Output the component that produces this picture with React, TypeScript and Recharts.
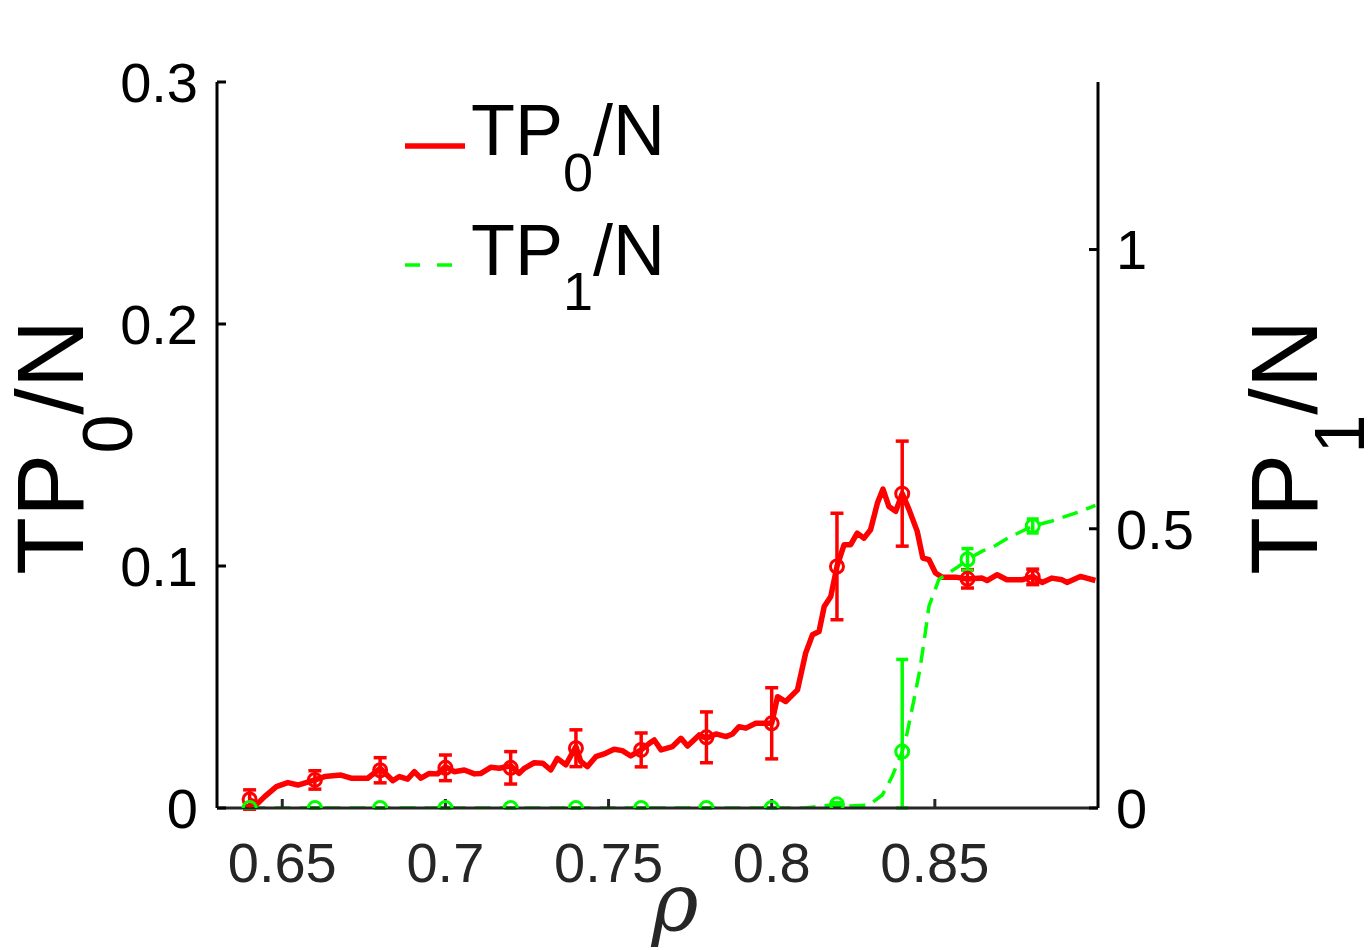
import {
  ComposedChart, Line, Scatter, XAxis, YAxis, ErrorBar,
} from "recharts";

// TP0/N (left axis) — dense simulation curve
const RHO_TP0 = [
  0.640, 0.6425, 0.6446, 0.6482, 0.6517, 0.6548, 0.660, 0.663, 0.668, 0.6711,
  0.6762, 0.680, 0.6839, 0.6859, 0.6884, 0.6905, 0.6925, 0.6951, 0.6976, 0.700,
  0.7027, 0.7058, 0.7089, 0.7109, 0.7139, 0.7165, 0.720, 0.7226, 0.7242, 0.7272,
  0.7298, 0.7323, 0.7343, 0.7369, 0.740, 0.7415, 0.7435, 0.7461, 0.7491, 0.7517,
  0.7542, 0.7568, 0.760, 0.7625, 0.764, 0.7661, 0.7696, 0.7722, 0.7742, 0.7778,
  0.780, 0.7829, 0.786, 0.788, 0.790, 0.7921, 0.7951, 0.800, 0.8018, 0.8043,
  0.8079, 0.8104, 0.8125, 0.8145, 0.8161, 0.8181, 0.820, 0.8222, 0.8242, 0.8262,
  0.8283, 0.8303, 0.8324, 0.8341, 0.8359, 0.838, 0.840, 0.8421, 0.8446, 0.8463,
  0.8482, 0.8502, 0.8522, 0.8563, 0.860, 0.8645, 0.866, 0.8691, 0.8721, 0.8767,
  0.880, 0.8829, 0.8859, 0.889, 0.8905, 0.8946, 0.8992,
];
const TP0 = [
  0.0033, 0.0019, 0.0047, 0.0088, 0.0105, 0.0095, 0.0116, 0.013, 0.0136, 0.0123,
  0.0123, 0.0164, 0.0113, 0.013, 0.0119, 0.015, 0.0123, 0.0143, 0.0141, 0.0171,
  0.015, 0.0157, 0.0141, 0.0143, 0.0168, 0.0164, 0.0174, 0.0143, 0.0164, 0.0187,
  0.0185, 0.0157, 0.0205, 0.0178, 0.0254, 0.0192, 0.0171, 0.0212, 0.0226, 0.0243,
  0.0237, 0.0215, 0.024, 0.0267, 0.0281, 0.024, 0.0254, 0.0288, 0.0256, 0.0302,
  0.0288, 0.0306, 0.0295, 0.0306, 0.0336, 0.033, 0.035, 0.035, 0.046, 0.044,
  0.0488, 0.064, 0.0716, 0.0729, 0.0833, 0.0874, 0.0998, 0.1088, 0.1088, 0.1136,
  0.1115, 0.115, 0.126, 0.1318, 0.1246, 0.1226, 0.1299, 0.1233, 0.1143, 0.1033,
  0.1026, 0.0971, 0.0954, 0.0954, 0.0946, 0.095, 0.094, 0.0964, 0.0943, 0.0943,
  0.0957, 0.0932, 0.095, 0.0943, 0.0932, 0.0957, 0.094,
];

// TP1/N (right axis) — dense simulation curve
const RHO_TP1 = [
  0.640, 0.660, 0.680, 0.700, 0.720, 0.740, 0.760, 0.780, 0.800, 0.810,
  0.820, 0.8237, 0.8298, 0.8339, 0.8369, 0.840, 0.8415, 0.8436, 0.8454, 0.8467,
  0.8482, 0.8497, 0.8512, 0.8543, 0.8574, 0.860, 0.8645, 0.8686, 0.8726, 0.880,
  0.8859, 0.8951, 0.8992,
];
const TP1 = [
  0, 0, 0, 0, 0, 0, 0, 0, 0, 0,
  0.0066, 0.0036, 0.0054, 0.0233, 0.0562, 0.101, 0.134, 0.194, 0.2476, 0.2985,
  0.3613, 0.385, 0.409, 0.421, 0.433, 0.445, 0.46, 0.47, 0.484, 0.505,
  0.514, 0.532, 0.542,
];

// averaged points with error bars
const RHO_ERR = [0.64, 0.66, 0.68, 0.70, 0.72, 0.74, 0.76, 0.78, 0.80, 0.82, 0.84, 0.86, 0.88];
const TP0_MEAN = [0.0035, 0.0116, 0.0156, 0.0166, 0.0166, 0.0247, 0.024, 0.0292, 0.035, 0.0998, 0.1299, 0.0947, 0.0955];
const TP0_ERR = [0.004, 0.0038, 0.0052, 0.0053, 0.0067, 0.0076, 0.007, 0.0105, 0.0147, 0.022, 0.0217, 0.0038, 0.0032];
const TP1_MEAN = [0, 0, 0, 0, 0, 0, 0, 0, 0, 0.0066, 0.101, 0.445, 0.505];
const TP1_ERR_LOW = [0, 0, 0, 0, 0, 0, 0, 0, 0, 0.003, 0.101, 0.0195, 0.0125];
const TP1_ERR_HIGH = [0, 0, 0, 0, 0, 0, 0, 0, 0, 0.003, 0.165, 0.0195, 0.0125];

const X_TICKS = [0.65, 0.7, 0.75, 0.8, 0.85];
const LEFT_TICKS = [0, 0.1, 0.2, 0.3];
const RIGHT_TICKS = [0, 0.5, 1];

const RED = "#ff0000";
const GREEN = "#00ff00";
const FONT = "'Liberation Sans', Arial, Helvetica, sans-serif";

const tp0Line = RHO_TP0.map((rho, i) => ({ rho, v: TP0[i] }));
const tp1Line = RHO_TP1.map((rho, i) => ({ rho, v: TP1[i] }));
const tp0Pts = RHO_ERR.map((rho, i) => ({ rho, v: TP0_MEAN[i], e: TP0_ERR[i] }));
const tp1Pts = RHO_ERR.map((rho, i) => ({ rho, v: TP1_MEAN[i], e: [TP1_ERR_LOW[i], TP1_ERR_HIGH[i]] }));

const ring = (color: string) => (p: any) => (
  <circle cx={p.cx} cy={p.cy} r={6.5} fill="none" stroke={color} strokeWidth={3} />
);

const leftLabel = () => (
  <text transform="translate(83,575) rotate(-90)" fontFamily={FONT} fontSize={95} fill="#000">
    TP<tspan fontSize={70} dy={49}>0</tspan><tspan dy={-49}>/N</tspan>
  </text>
);

const rightLabel = () => (
  <text transform="translate(1317,575) rotate(-90)" fontFamily={FONT} fontSize={95} fill="#000">
    TP<tspan fontSize={70} dy={47}>1</tspan><tspan dy={-47}>/N</tspan>
  </text>
);

const xLabel = () => (
  <text x={675} y={930} textAnchor="middle" fontFamily="'DejaVu Serif', 'Liberation Serif', serif"
    fontStyle="italic" fontSize={80} fill="#262626">ρ</text>
);

function LegendBox() {
  return (
    <svg width={320} height={240} style={{ position: "absolute", left: 395, top: 90 }}>
      <line x1={10} x2={70} y1={56} y2={56} stroke={RED} strokeWidth={5.5} />
      <text x={76} y={65} fontFamily={FONT} fontSize={72} fill="#000">
        TP<tspan fontSize={54} dy={36}>0</tspan><tspan dy={-36}>/N</tspan>
      </text>
      <line x1={10} x2={58} y1={175} y2={175} stroke={GREEN} strokeWidth={3.5} strokeDasharray="15 17" />
      <text x={76} y={185} fontFamily={FONT} fontSize={72} fill="#000">
        TP<tspan fontSize={54} dy={35}>1</tspan><tspan dy={-35}>/N</tspan>
      </text>
    </svg>
  );
}

export default function App() {
  return (
    <div style={{ position: "absolute", left: 0, top: 0, width: 1368, height: 950, background: "#fff" }}>
      <ComposedChart width={1368} height={950} margin={{ top: 82, right: 0, bottom: 0, left: 0 }}>
        <XAxis
          dataKey="rho" type="number" domain={[0.63, 0.9]} allowDataOverflow
          ticks={X_TICKS} tickFormatter={(v) => String(v)}
          height={142} tickSize={-9} tickMargin={43}
          axisLine={{ stroke: "#262626", strokeWidth: 3 }}
          tickLine={{ stroke: "#262626", strokeWidth: 3 }}
          tick={{ fill: "#262626", fontSize: 56, fontFamily: FONT }}
          label={xLabel}
        />
        <YAxis
          yAxisId="left" orientation="left" type="number" domain={[0, 0.3]} allowDataOverflow
          ticks={LEFT_TICKS} tickFormatter={(v) => String(v)}
          width={217} tickSize={-9} tickMargin={28}
          axisLine={{ stroke: "#000", strokeWidth: 3 }}
          tickLine={{ stroke: "#000", strokeWidth: 3 }}
          tick={{ fill: "#000", fontSize: 56, fontFamily: FONT }}
          label={leftLabel}
        />
        <YAxis
          yAxisId="right" orientation="right" type="number" domain={[0, 1.3]} allowDataOverflow
          ticks={RIGHT_TICKS} tickFormatter={(v) => String(v)}
          width={270} tickSize={-9} tickMargin={27}
          axisLine={{ stroke: "#000", strokeWidth: 3 }}
          tickLine={{ stroke: "#000", strokeWidth: 3 }}
          tick={{ fill: "#000", fontSize: 56, fontFamily: FONT }}
          label={rightLabel}
        />
        <Line
          yAxisId="left" data={tp0Line} dataKey="v" type="linear"
          stroke={RED} strokeWidth={5.5} strokeLinejoin="round" dot={false} activeDot={false}
          isAnimationActive={false}
        />
        <Scatter
          yAxisId="left" data={tp0Pts} dataKey="v" shape={ring(RED)} isAnimationActive={false}
        >
          <ErrorBar dataKey="e" direction="y" width={6.5} stroke={RED} strokeWidth={3.5} />
        </Scatter>
        <Line
          yAxisId="right" data={tp1Line} dataKey="v" type="linear"
          stroke={GREEN} strokeWidth={3.5} strokeDasharray="16 9" dot={false} activeDot={false}
          isAnimationActive={false}
        />
        <Scatter
          yAxisId="right" data={tp1Pts} dataKey="v" shape={ring(GREEN)} isAnimationActive={false}
        >
          <ErrorBar dataKey="e" direction="y" width={6} stroke={GREEN} strokeWidth={3.5} />
        </Scatter>
      </ComposedChart>
      <LegendBox />
    </div>
  );
}
